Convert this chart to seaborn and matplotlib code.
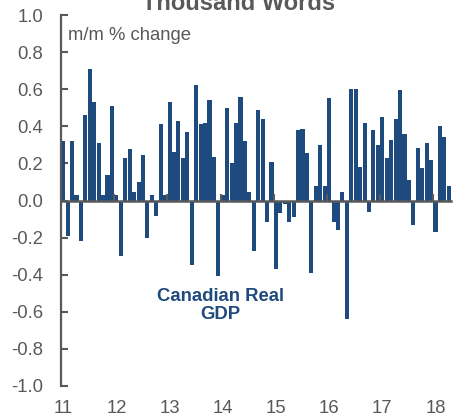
import matplotlib
matplotlib.use("Agg")
import matplotlib.pyplot as plt
import seaborn as sns
import numpy as np
import pandas as pd

# Monthly GDP m/m % change, Jan 2011 .. Apr 2018
gdp_change = [
    0.32, -0.19, 0.32, 0.03, -0.22, 0.46, 0.71, 0.53, 0.31, 0.03, 0.14, 0.51,   # 2011
    0.03, -0.30, 0.23, 0.28, 0.045, 0.10, 0.245, -0.20, 0.03, -0.085, 0.41, 0.03, # 2012
    0.53, 0.26, 0.43, 0.23, 0.37, -0.35, 0.62, 0.41, 0.42, 0.54, 0.235, -0.405,  # 2013
    0.03, 0.50, 0.20, 0.42, 0.56, 0.32, 0.045, -0.27, 0.49, 0.44, -0.115, 0.21,  # 2014
    -0.37, -0.07, -0.02, -0.115, -0.09, 0.38, 0.385, 0.255, -0.39, 0.08, 0.30, 0.077, # 2015
    0.55, -0.115, -0.16, 0.045, -0.64, 0.60, 0.60, 0.18, 0.42, -0.06, 0.38, 0.30, # 2016
    0.45, 0.23, 0.325, 0.44, 0.595, 0.36, 0.11, -0.13, 0.285, 0.175, 0.31, 0.22,  # 2017
    -0.17, 0.40, 0.34, 0.077,                                                      # 2018
]
year_labels = ["11", "12", "13", "14", "15", "16", "17", "18"]
y_ticks = [-1.0, -0.8, -0.6, -0.4, -0.2, 0.0, 0.2, 0.4, 0.6, 0.8, 1.0]

df = pd.DataFrame({"month": np.arange(len(gdp_change)), "change": gdp_change})

BLUE = "#1F4A7E"
GRAY = "#595959"

sns.set_style("white")
plt.rcParams["font.family"] = ["Liberation Sans", "DejaVu Sans"]

fig = plt.figure(figsize=(4.54, 4.18), dpi=100)
ax = fig.add_axes([61 / 454, 1 - 386 / 418, 390 / 454, 371 / 418])

sns.barplot(data=df, x="month", y="change", color=BLUE, width=0.92,
            linewidth=0, saturation=1, ax=ax, native_scale=True)

n = len(gdp_change)
ax.set_xlim(-0.5, n - 0.5)
ax.set_ylim(-1.0, 1.0)
ax.set_yticks(y_ticks)
ax.set_yticklabels([f"{v:.1f}" for v in y_ticks])
ax.set_xticks([12 * i for i in range(len(year_labels))])
ax.set_xticklabels(year_labels)
ax.set_xlabel("")
ax.set_ylabel("")

for s in ["top", "right", "bottom"]:
    ax.spines[s].set_visible(False)
ax.spines["left"].set_color(GRAY)
ax.spines["left"].set_linewidth(1.6)

ax.tick_params(axis="y", left=True, direction="in", length=5, width=1.5, color=GRAY,
               labelcolor=GRAY, labelsize=13.3, pad=13)
ax.tick_params(axis="x", bottom=False, length=0, labelcolor=GRAY, labelsize=13.3, pad=10)

# zero axis with year-boundary ticks pointing up
ax2 = ax.twiny()
ax2.set_xlim(ax.get_xlim())
for s in ["top", "left", "right"]:
    ax2.spines[s].set_visible(False)
ax2.spines["bottom"].set_visible(True)
ax2.spines["bottom"].set_position(("data", 0))
ax2.spines["bottom"].set_color(GRAY)
ax2.spines["bottom"].set_linewidth(1.8)
ax2.xaxis.set_ticks_position("bottom")
ax2.set_xticks([12 * i - 0.5 for i in range(1, len(year_labels))])
ax2.tick_params(axis="x", bottom=True, top=False, direction="in", length=5, width=1.5,
                color=GRAY, labelbottom=False, labeltop=False)

ax.text(0.018, (0.865 + 1) / 2, "m/m % change", transform=ax.transAxes,
        fontsize=13.3, color=GRAY, ha="left", va="baseline")

ax.text(0.408, (1 - 0.565) / 2, "Canadian Real\nGDP", transform=ax.transAxes,
        fontsize=13.3, fontweight="bold", color=BLUE, ha="center", va="center",
        multialignment="center", linespacing=1.12)

fig.text(239 / 454, 1 - 10 / 418, "Thousand Words", fontsize=17,
         fontweight="bold", color=GRAY, ha="center", va="baseline")

fig.savefig("out.png", dpi=100)
